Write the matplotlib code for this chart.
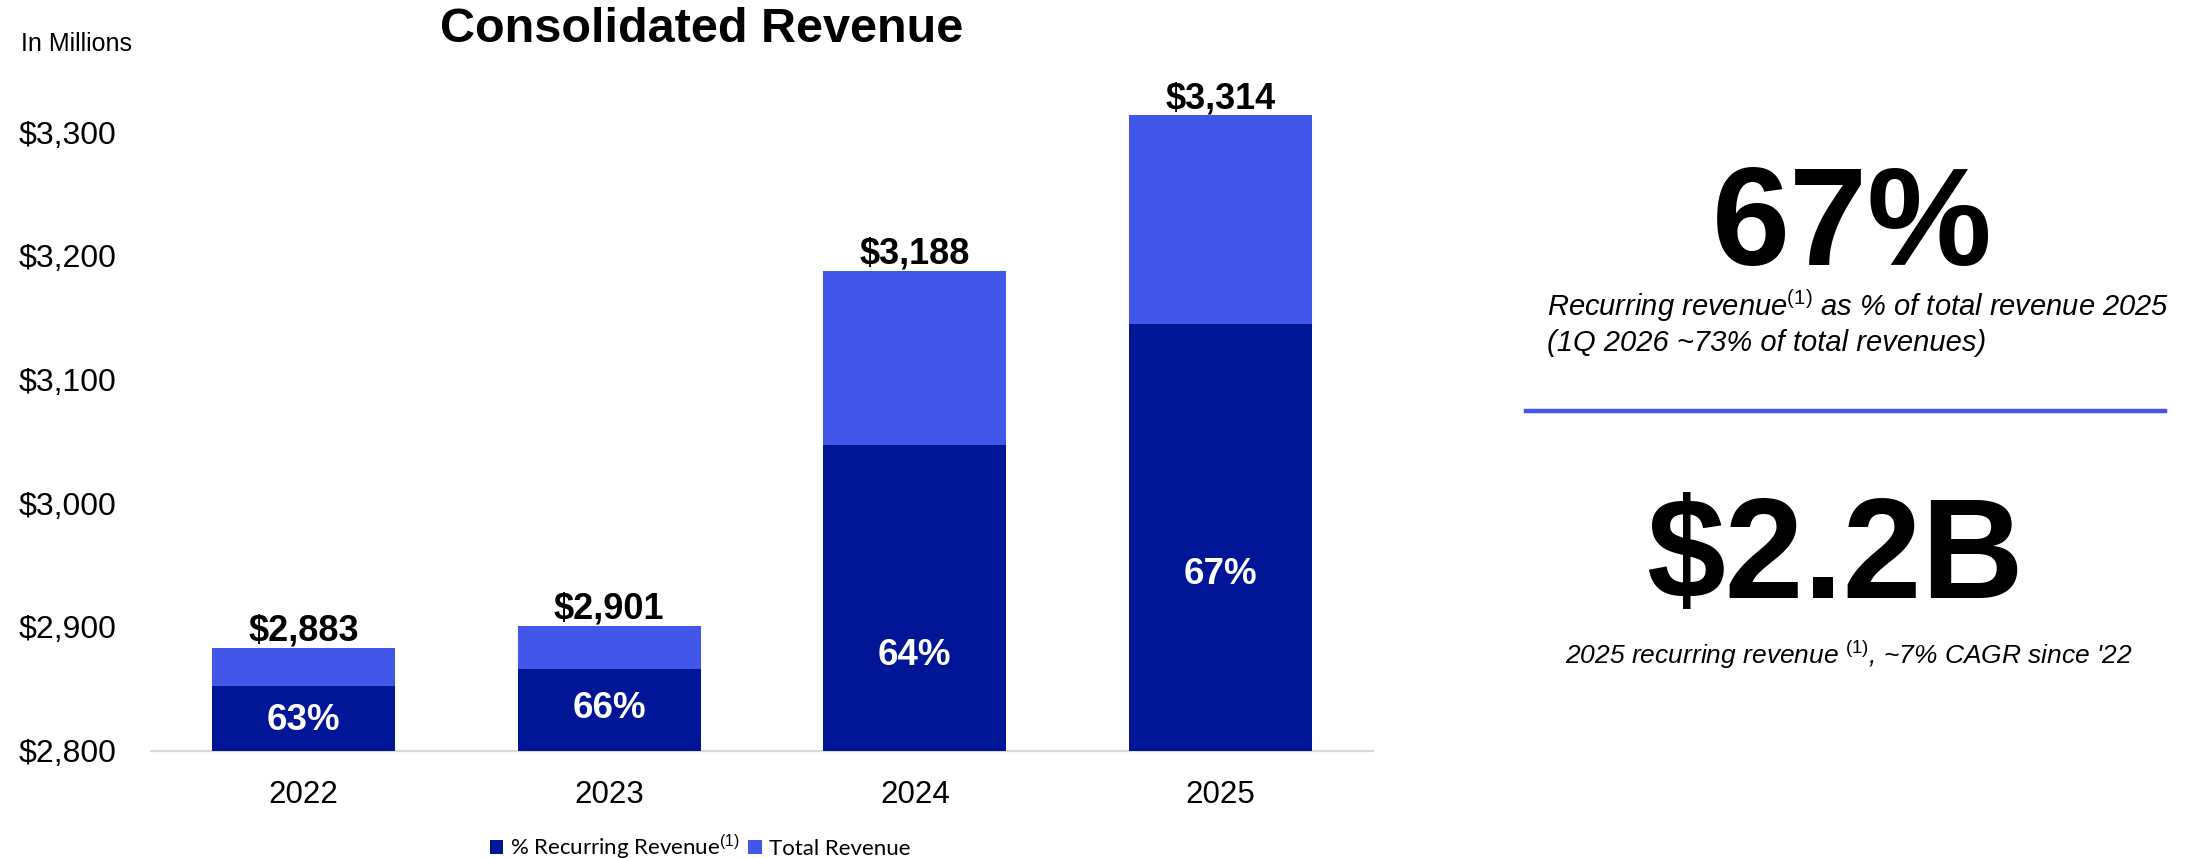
import matplotlib
matplotlib.use("Agg")
import matplotlib.pyplot as plt
from matplotlib.patches import Patch

# ---------------- data ----------------
years = ["2022", "2023", "2024", "2025"]
total_revenue = [2883, 2901, 3188, 3314]
recurring_bar = [2852, 2866, 3047, 3145]          # visual height of dark segment
recurring_pct = ["63%", "66%", "64%", "67%"]
pct_label_y = [2824, 2834, 2877, 2942]
value_labels = ["$2,883", "$2,901", "$3,188", "$3,314"]
y_ticks = [2800, 2900, 3000, 3100, 3200, 3300]
y_tick_labels = ["$2,800", "$2,900", "$3,000", "$3,100", "$3,200", "$3,300"]

DARK = "#001696"
LIGHT = "#4256E9"
FONT = "Liberation Sans"

plt.rcParams["font.family"] = [FONT, "DejaVu Sans"]
plt.rcParams["mathtext.fontset"] = "custom"
plt.rcParams["mathtext.rm"] = FONT
plt.rcParams["mathtext.it"] = FONT + ":italic"
plt.rcParams["mathtext.bf"] = FONT + ":bold"

W, H = 2193, 858
fig = plt.figure(figsize=(W / 100, H / 100), dpi=100)


def fx(px):
    return px / W


def fy(py):
    return 1 - py / H


ax_left, ax_right = 151, 1373
ax_bottom, ax_top = 750.5, 70.5
ax = fig.add_axes([fx(ax_left), fy(ax_bottom), (ax_right - ax_left) / W, (ax_bottom - ax_top) / H])

x = list(range(len(years)))
ax.bar(x, total_revenue, width=0.6, color=LIGHT, zorder=3)
ax.bar(x, recurring_bar, width=0.6, color=DARK, zorder=4)

ax.set_xlim(-0.5, 3.5)
ax.set_ylim(2800, 3350)
ax.set_yticks(y_ticks)
ax.set_yticklabels(y_tick_labels, fontsize=23)
ax.set_xticks(x)
ax.set_xticklabels(years, fontsize=22.5)
ax.tick_params(axis="y", length=0, pad=25)
ax.tick_params(axis="x", length=0, pad=21)
for s in ["top", "right", "left"]:
    ax.spines[s].set_visible(False)
ax.spines["bottom"].set_color("#d9d9d9")
ax.spines["bottom"].set_linewidth(1.6)
ax.spines["bottom"].set_zorder(2)

for xi, tot, lab in zip(x, total_revenue, value_labels):
    ax.annotate(lab, (xi, tot), xytext=(0, 5), textcoords="offset points",
                ha="center", va="baseline", fontsize=26, fontweight="bold",
                color="black", annotation_clip=False)
for xi, py, lab in zip(x, pct_label_y, recurring_pct):
    ax.text(xi, py, lab, ha="center", va="center", fontsize=26.5,
            fontweight="bold", color="white", zorder=5)

# titles
fig.text(fx(702), fy(29), "Consolidated Revenue", ha="center", va="center",
         fontsize=35, fontweight="bold")
fig.text(fx(21), fy(44), "In Millions", ha="left", va="center", fontsize=18)

# legend
handles = [Patch(facecolor=DARK, edgecolor="none"), Patch(facecolor=LIGHT, edgecolor="none")]
labels = ["% Recurring Revenue$^{(1)}$", "Total Revenue"]
fig.legend(handles, labels, loc="center", bbox_to_anchor=(fx(700), fy(847)),
           ncol=2, frameon=False, prop={"family": ["Lato", "DejaVu Sans"], "size": 16},
           handlelength=0.62, handleheight=0.62, handletextpad=0.3,
           columnspacing=0.4, borderpad=0, borderaxespad=0)

# right panel
fig.text(fx(1852), fy(265), "67%", ha="center", va="baseline", fontsize=101,
         fontweight="bold")
fig.text(fx(1547), fy(316), r"Recurring revenue$^{\mathit{(1)}}$ as % of total revenue 2025",
         ha="left", va="baseline", fontsize=21, style="italic")
fig.text(fx(1547), fy(351), "(1Q 2026 ~73% of total revenues)",
         ha="left", va="baseline", fontsize=21, style="italic")
fig.add_artist(plt.Line2D([fx(1526), fx(2165)], [fy(410.5), fy(410.5)],
                          color=LIGHT, linewidth=3.2, transform=fig.transFigure))
fig.text(fx(1835), fy(598), "$2.2B", ha="center", va="baseline", fontsize=102,
         fontweight="bold", parse_math=False)
fig.text(fx(1849), fy(664), r"2025 recurring revenue $^{\mathit{(1)}}$, ~7% CAGR since '22",
         ha="center", va="baseline", fontsize=19, style="italic")

fig.savefig("out.png", dpi=100, facecolor="white")
